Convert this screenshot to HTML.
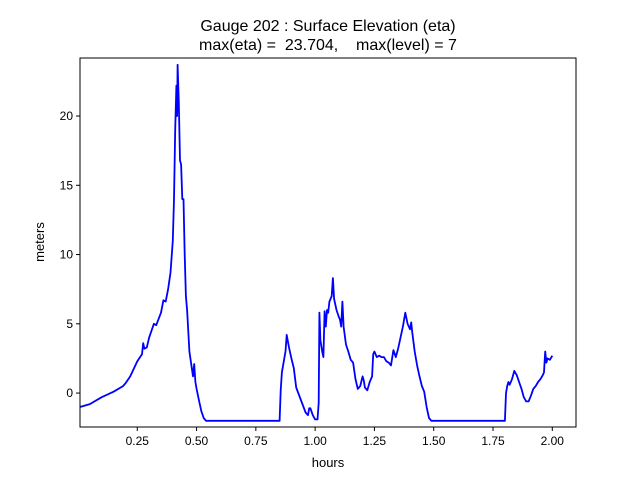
<!DOCTYPE html>
<html><head><meta charset="utf-8"><style>
body{margin:0;background:#fff;}
svg{display:block;font-family:"Liberation Sans","DejaVu Sans",sans-serif;}
</style></head><body>
<svg id="chart" width="640" height="480">
<rect x="0" y="0" width="640" height="480" fill="#fff"/>
<text x="328" y="31" text-anchor="middle" font-size="16">Gauge 202 : Surface Elevation (eta)</text>
<text x="328" y="50" text-anchor="middle" font-size="16" xml:space="preserve">max(eta) =  23.704,    max(level) = 7</text>
<g id="ticks"></g>
<path id="line" fill="none" stroke="#0000ff" stroke-width="1.8" stroke-linejoin="round"/>
<rect x="80" y="58" width="496" height="369" fill="none" stroke="#000" stroke-width="1"/>
<text x="328" y="467" text-anchor="middle" font-size="13">hours</text>
<text x="44" y="242" text-anchor="middle" font-size="13" transform="rotate(-90 44 242)">meters</text>
</svg>
<script>
const xTicks=[0.25,0.5,0.75,1.0,1.25,1.5,1.75,2.0];
const xTickLabels=["0.25","0.50","0.75","1.00","1.25","1.50","1.75","2.00"];
const yTicks=[0,5,10,15,20];
const yTickLabels=["0","5","10","15","20"];
const times=[0.01,0.05,0.1,0.15,0.19,0.2,0.22,0.25,0.27,0.275,0.28,0.29,0.30,0.32,0.33,0.35,0.36,0.37,0.38,0.39,0.40,0.405,0.41,0.415,0.418,0.42,0.425,0.43,0.435,0.44,0.445,0.45,0.455,0.46,0.47,0.48,0.485,0.49,0.495,0.50,0.51,0.52,0.53,0.54,0.85,0.855,0.86,0.87,0.875,0.88,0.89,0.90,0.91,0.92,0.94,0.96,0.97,0.975,0.98,0.99,1.00,1.01,1.015,1.018,1.022,1.03,1.035,1.04,1.045,1.05,1.055,1.06,1.07,1.075,1.08,1.09,1.10,1.105,1.11,1.115,1.12,1.13,1.14,1.15,1.16,1.17,1.18,1.19,1.20,1.205,1.21,1.22,1.23,1.24,1.245,1.25,1.26,1.27,1.28,1.29,1.30,1.31,1.32,1.33,1.34,1.35,1.36,1.37,1.38,1.39,1.40,1.405,1.41,1.42,1.43,1.44,1.45,1.46,1.47,1.48,1.49,1.80,1.805,1.81,1.815,1.82,1.83,1.84,1.85,1.86,1.87,1.88,1.89,1.90,1.91,1.92,1.93,1.94,1.95,1.96,1.965,1.97,1.975,1.98,1.99,2.0];
const eta=[-1.0,-0.8,-0.3,0.1,0.5,0.7,1.2,2.3,2.8,3.6,3.2,3.3,4.0,5.0,4.9,5.8,6.7,6.6,7.5,8.7,11,14,19,22.2,20,23.7,21,16.8,16.5,14,14,10,7,6,3,1.8,1.2,2.1,0.8,0.3,-0.5,-1.3,-1.8,-2.0,-2.0,0.2,1.5,2.5,3.0,4.2,3.3,2.5,1.8,0.4,-0.5,-1.4,-1.6,-1.1,-1.1,-1.6,-1.9,-1.9,-0.7,5.8,3.8,3.0,2.6,5.9,4.8,6.0,5.8,6.6,7.0,8.3,6.8,6.0,5.5,5.3,4.8,6.6,4.8,3.5,3.0,2.4,2.2,1.0,0.3,0.5,1.2,0.9,0.4,0.2,0.8,1.2,2.8,3.0,2.6,2.7,2.6,2.6,2.3,2.2,2.0,3.1,2.6,3.2,4.0,4.8,5.8,5.0,4.6,5.1,4.3,3.0,2.0,1.2,0.5,0.1,-1.0,-1.8,-2.0,-2.0,0,0.5,0.8,0.6,1.0,1.6,1.3,0.8,0.3,-0.3,-0.6,-0.6,-0.2,0.3,0.5,0.8,1.0,1.3,1.5,3.0,2.2,2.5,2.4,2.7];
const X0=80,X1=576,Y0=58,Y1=427,xmin=0.0085,xmax=2.1,ymin=-2.45,ymax=24.19;
function sx(v){return X0+(v-xmin)/(xmax-xmin)*(X1-X0);}
function sy(v){return Y1-(v-ymin)/(ymax-ymin)*(Y1-Y0);}
const NS="http://www.w3.org/2000/svg";
const g=document.getElementById('ticks');
xTicks.forEach((t,i)=>{
  const l=document.createElementNS(NS,'line');
  l.setAttribute('x1',sx(t));l.setAttribute('x2',sx(t));l.setAttribute('y1',Y1);l.setAttribute('y2',Y1+4);l.setAttribute('stroke','#000');
  
  
  g.appendChild(l);
  const tx=document.createElementNS(NS,'text');
  tx.setAttribute('x',sx(t));tx.setAttribute('y',Y1+18);tx.setAttribute('text-anchor','middle');tx.setAttribute('font-size','12');
  tx.textContent=xTickLabels[i];
  
  
  g.appendChild(tx);
});
yTicks.forEach((t,i)=>{
  const l=document.createElementNS(NS,'line');
  l.setAttribute('x1',X0-4);l.setAttribute('x2',X0);l.setAttribute('y1',sy(t));l.setAttribute('y2',sy(t));l.setAttribute('stroke','#000');
  
  
  g.appendChild(l);
  const tx=document.createElementNS(NS,'text');
  tx.setAttribute('x',X0-7);tx.setAttribute('y',sy(t)+4);tx.setAttribute('text-anchor','end');tx.setAttribute('font-size','12');
  tx.textContent=yTickLabels[i];
  
  
  g.appendChild(tx);
});
document.getElementById('line').setAttribute('d',times.map((t,i)=>(i?'L':'M')+sx(t).toFixed(1)+','+sy(eta[i]).toFixed(1)).join(''));
</script>
</body></html>
